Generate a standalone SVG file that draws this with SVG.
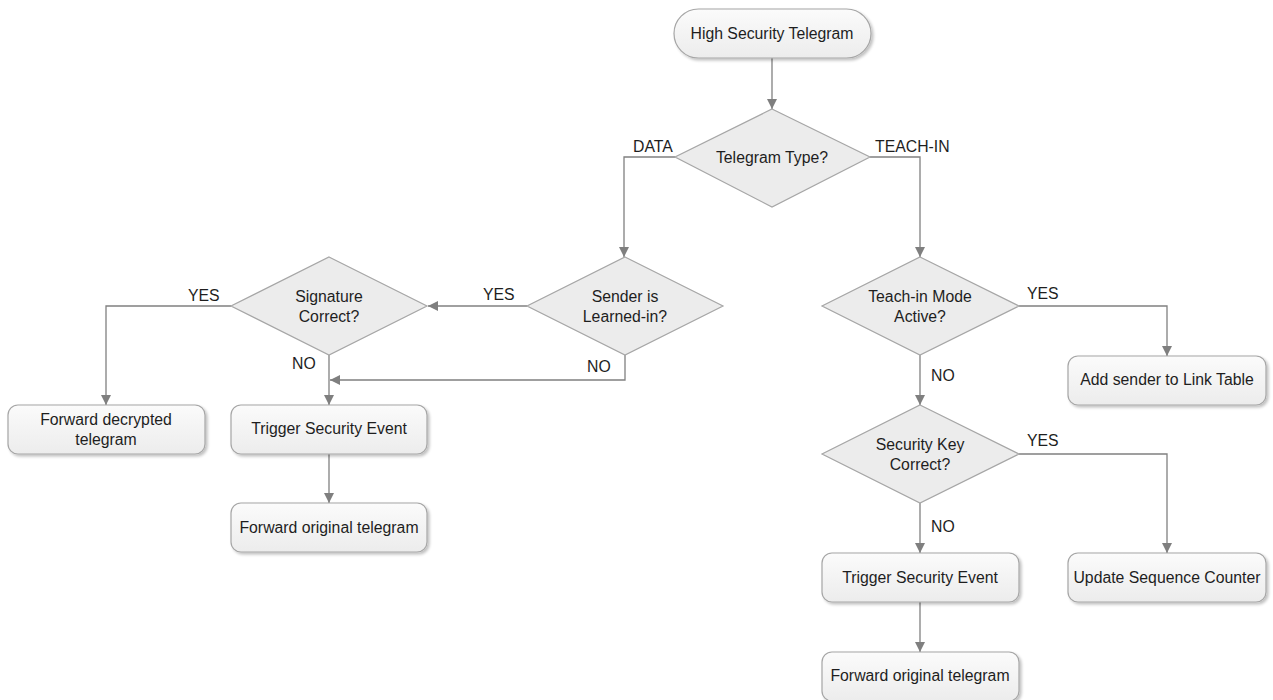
<svg xmlns="http://www.w3.org/2000/svg" width="1273" height="700" viewBox="0 0 1273 700">
<defs>
<linearGradient id="g" x1="0" y1="0" x2="0" y2="1">
<stop offset="0" stop-color="#fbfbfb"/>
<stop offset="1" stop-color="#ececec"/>
</linearGradient>
<filter id="sh" x="-10%" y="-10%" width="125%" height="140%">
<feGaussianBlur in="SourceAlpha" stdDeviation="1.5"/>
<feOffset dx="1.5" dy="2" result="b"/>
<feComponentTransfer><feFuncA type="linear" slope="0.25"/></feComponentTransfer>
<feMerge><feMergeNode/><feMergeNode in="SourceGraphic"/></feMerge>
</filter>
<marker id="ar" viewBox="0 0 10 10" refX="10" refY="5" markerWidth="10" markerHeight="10" markerUnits="userSpaceOnUse" orient="auto">
<path d="M0,0 L10,5 L0,10 z" fill="#7f7f7f"/>
</marker>
</defs>
<style>
.box{fill:url(#g);stroke:#a6a6a6;stroke-width:1.2;filter:url(#sh)}
.dia{fill:#ececec;stroke:#a6a6a6;stroke-width:1.2}
.c{fill:none;stroke:#808080;stroke-width:1.3}
.a{marker-end:url(#ar)}
text{font-family:"Liberation Sans",Arial,sans-serif;font-size:15.8px;fill:#1e1e1e}
.m{text-anchor:middle}
</style>
<rect width="1273" height="700" fill="#ffffff"/>
<g id="connectors">
<path class="c a" d="M772,58 V109"/>
<path class="c a" d="M675,157 H624 V257"/>
<path class="c a" d="M870,157 H920 V257"/>
<path class="c a" d="M527,306 H428"/>
<path class="c a" d="M625,355 V380 H330"/>
<path class="c a" d="M329,355 V405"/>
<path class="c a" d="M231,306 H106 V405"/>
<path class="c a" d="M329,454 V503"/>
<path class="c a" d="M1019,306 H1167 V356"/>
<path class="c a" d="M920,355 V405"/>
<path class="c a" d="M1019,454 H1167 V553"/>
<path class="c a" d="M920,503 V553"/>
<path class="c a" d="M920,602 V652"/>
</g>
<g id="labels">
<text x="633" y="152">DATA</text>
<text x="875" y="152">TEACH-IN</text>
<text x="483" y="300">YES</text>
<text x="587" y="372">NO</text>
<text x="292" y="369">NO</text>
<text x="188" y="301">YES</text>
<text x="1027" y="299">YES</text>
<text x="931" y="381">NO</text>
<text x="1027" y="446">YES</text>
<text x="931" y="532">NO</text>
</g>
<g id="start">
<rect class="box" x="674" y="9" width="197" height="49" rx="24.5"/>
<text class="m" x="772" y="39">High Security Telegram</text>
</g>
<g id="telegram-type">
<polygon class="dia" points="772,109 870,157 772,207 675,157"/>
<text class="m" x="772" y="163">Telegram Type?</text>
</g>
<g id="sender-learned">
<polygon class="dia" points="625,257 723,306 625,355 527,306"/>
<text class="m" x="625" y="302">Sender is</text>
<text class="m" x="625" y="322">Learned-in?</text>
</g>
<g id="signature">
<polygon class="dia" points="329,257 427,306 329,355 231,306"/>
<text class="m" x="329" y="302">Signature</text>
<text class="m" x="329" y="322">Correct?</text>
</g>
<g id="forward-decrypted">
<rect class="box" x="8" y="405" width="197" height="49" rx="10"/>
<text class="m" x="106" y="425">Forward decrypted</text>
<text class="m" x="106" y="445">telegram</text>
</g>
<g id="trigger-left">
<rect class="box" x="231" y="405" width="196" height="49" rx="10"/>
<text class="m" x="329" y="434">Trigger Security Event</text>
</g>
<g id="forward-original-left">
<rect class="box" x="231" y="503" width="196" height="49" rx="10"/>
<text class="m" x="329" y="533">Forward original telegram</text>
</g>
<g id="teach-in-mode">
<polygon class="dia" points="920,257 1019,306 920,355 822,306"/>
<text class="m" x="920" y="302">Teach-in Mode</text>
<text class="m" x="920" y="322">Active?</text>
</g>
<g id="add-sender">
<rect class="box" x="1068" y="356" width="198" height="49" rx="10"/>
<text class="m" x="1167" y="385">Add sender to Link Table</text>
</g>
<g id="security-key">
<polygon class="dia" points="920,405 1019,454 920,503 822,454"/>
<text class="m" x="920" y="450">Security Key</text>
<text class="m" x="920" y="470">Correct?</text>
</g>
<g id="trigger-right">
<rect class="box" x="822" y="553" width="197" height="49" rx="10"/>
<text class="m" x="920" y="583">Trigger Security Event</text>
</g>
<g id="update-seq">
<rect class="box" x="1068" y="553" width="198" height="49" rx="10"/>
<text class="m" x="1167" y="583">Update Sequence Counter</text>
</g>
<g id="forward-original-right">
<rect class="box" x="822" y="652" width="197" height="49" rx="10"/>
<text class="m" x="920" y="681">Forward original telegram</text>
</g>
</svg>
